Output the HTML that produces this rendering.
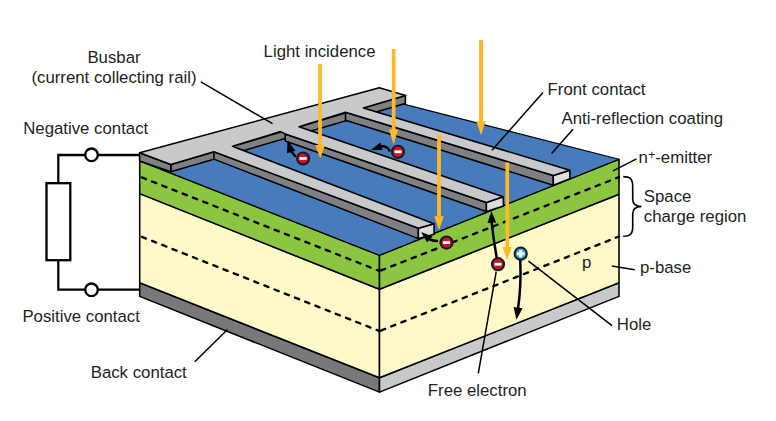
<!DOCTYPE html>
<html><head><meta charset="utf-8">
<style>
html,body{margin:0;padding:0;background:#fff;}
svg{display:block;}
text{font-family:"Liberation Sans",sans-serif;font-size:16.8px;fill:#231f20;}
</style></head>
<body>
<svg width="776" height="421" viewBox="0 0 776 421">
<g stroke="#000" stroke-width="1.55" stroke-linejoin="round">
<!-- front-left face -->
<polygon fill="#77787b" points="139.7,282.8 379.5,377.8 379.5,392.1 139.7,296.4"/>
<polygon fill="#fff9ca" points="139.7,193.6 379.5,289.3 379.5,377.8 139.7,282.8"/>
<polygon fill="#8cc540" points="139.7,160.9 379.5,255.3 379.5,289.3 139.7,193.6"/>
<!-- front-right face -->
<polygon fill="#c8c9cb" points="379.5,377.8 619,282.7 619,296.4 379.5,392.1"/>
<polygon fill="#fff9ca" points="379.5,289.3 619,194.2 619,282.7 379.5,377.8"/>
<polygon fill="#8cc540" points="379.5,255.3 619,159.2 619,194.2 379.5,289.3"/>
<!-- top -->
<polygon fill="#487bbb" stroke-width="1.15" points="139.7,160.9 379.5,255.3 619,159.2 379.3,97.9"/>
<!-- busbar side faces -->
<polygon fill="#7f8083" points="170.8,164.4 405.5,95.5 405.3,103.4 170.8,171.8"/>
<polygon fill="#7f8083" points="139.6,152.7 170.8,164.4 170.8,171.8 139.6,160.9"/>
<!-- finger side faces -->
<polygon fill="#7f8083" points="345.5,112.3 553.3,175.6 553.3,185.2 345.5,120.3"/>
<polygon fill="#dcdddf" points="553.3,175.6 569.9,170.2 569.9,178.8 553.3,185.2"/>
<polygon fill="#7f8083" points="285.2,133.9 486.4,202.5 486.4,211.6 285.2,141.1"/>
<polygon fill="#dcdddf" points="486.4,202.5 503.1,196.8 503.5,206 486.4,211.6"/>
<polygon fill="#7f8083" points="213.9,151.8 418.4,228.2 418.4,238.6 213.9,159.1"/>
<polygon fill="#dcdddf" points="418.4,228.2 434,223.8 434.1,234.2 418.4,238.6"/>
<!-- busbar + finger tops -->
<polygon fill="#c8c9cb" points="139.6,152.7 379.4,87.8 405.5,95.5 363.4,107.9 569.9,170.2 553.3,175.6 345.5,112.3 299,126.8 503.1,196.8 486.4,202.5 285.2,133.9 280.4,131.6 232.5,146.3 434,223.8 418.4,228.2 213.9,151.8 170.8,164.4"/>
</g>
<!-- dashed lines -->
<g stroke="#000" stroke-width="2.4" stroke-linecap="round" stroke-dasharray="4.4 6.58" stroke-dashoffset="-1.6" fill="none">
<line x1="140.4" y1="176.9" x2="379.5" y2="271"/>
<line x1="379.5" y1="271" x2="619" y2="177.1"/>
<line x1="140.4" y1="236.3" x2="379.5" y2="331.1"/>
<line x1="379.5" y1="331.1" x2="619" y2="236.5"/>
</g>
<!-- light arrows -->
<g fill="#fdb927">
<rect x="318.2" y="64" width="3.7" height="82"/>
<polygon points="315.5,145 325,145 320.2,158.6"/>
<rect x="391.8" y="49" width="3.7" height="81"/>
<polygon points="389,129.6 398.2,129.6 393.6,144.5"/>
<rect x="479.1" y="40" width="3.8" height="82"/>
<polygon points="476.4,121.2 485.6,121.2 481,135.3"/>
<rect x="437.1" y="134.8" width="3.8" height="82"/>
<polygon points="434.4,216.2 443.8,216.2 439.1,230.2"/>
<rect x="505.4" y="162.5" width="3.7" height="85"/>
<polygon points="502.7,247 511.7,247 507.2,260.2"/>
</g>
<!-- leader lines -->
<g stroke="#000" stroke-width="1.5" fill="none">
<line x1="200.9" y1="81.9" x2="272.5" y2="123.7"/>
<line x1="543" y1="92.5" x2="492" y2="150.3"/>
<line x1="573" y1="129.2" x2="551.6" y2="153.4"/>
<line x1="613" y1="170.9" x2="636.5" y2="158.9"/>
<line x1="611.8" y1="266.1" x2="634.8" y2="269.7"/>
<line x1="528.5" y1="261.2" x2="612" y2="325.6"/>
<line x1="496.2" y1="271.6" x2="478.3" y2="373.4"/>
<line x1="194.8" y1="361.8" x2="227.5" y2="329.5"/>
</g>
<!-- brace -->
<path d="M623.2,176.6 C630,176.6 632.7,179 632.7,186 L632.7,199 C632.7,204 636,206.5 641.6,206.5 C636,206.5 632.7,209 632.7,214 L632.7,227 C632.7,234 630,236.2 623.2,236.2" stroke="#000" stroke-width="1.6" fill="none"/>
<!-- carrier arrows -->
<g fill="#000" stroke="none">
<polygon points="287.5,140.4 287,153.3 295.4,150.8"/>
<polygon points="370.8,150 380.4,142.5 382.5,150"/>
<polygon points="421.2,232.1 427,242.5 432.5,236.6"/>
<polygon points="491.4,211 487.4,223 496.2,222.6"/>
<polygon points="516.4,319.8 513.6,307 522.6,308.3"/>
</g>
<g stroke="#000" stroke-width="2.5" fill="none" stroke-linecap="round">
<path d="M291.5,151.5 Q293.5,154 295,156"/>
<path d="M381,146.5 Q386,145 389.5,150.5"/>
<path d="M430,239.5 Q433.5,241 437,241"/>
<path d="M491.6,222 Q493.5,240 496.6,257"/>
<path d="M520.3,261 Q521.3,285 518.2,307.5"/>
</g>
<!-- electrons -->
<g transform="translate(303.1,158.5)"><circle r="6.1" fill="#c5142b" stroke="#1a1a1a" stroke-width="2"/><rect x="-3.5" y="-1.4" width="7" height="2.8" fill="#fff"/></g>
<g transform="translate(398,151.8)"><circle r="6.1" fill="#c5142b" stroke="#1a1a1a" stroke-width="2"/><rect x="-3.5" y="-1.4" width="7" height="2.8" fill="#fff"/></g>
<g transform="translate(446.5,242.6)"><circle r="6.1" fill="#c5142b" stroke="#1a1a1a" stroke-width="2"/><rect x="-3.5" y="-1.4" width="7" height="2.8" fill="#fff"/></g>
<g transform="translate(498,264.2)"><circle r="6.1" fill="#c5142b" stroke="#1a1a1a" stroke-width="2"/><rect x="-3.5" y="-1.4" width="7" height="2.8" fill="#fff"/></g>
<g transform="translate(520.7,253.7)"><circle r="6.1" fill="#29abe2" stroke="#1a1a1a" stroke-width="2"/><rect x="-3.8" y="-1.5" width="7.6" height="3" fill="#fff"/><rect x="-1.5" y="-3.6" width="3" height="7.2" fill="#fff"/></g>
<!-- circuit -->
<g stroke="#000" stroke-width="2.3" fill="none">
<polyline points="139.7,155 97.8,155"/>
<polyline points="85.2,155 58.3,155 58.3,183.2"/>
<rect x="46.5" y="183.2" width="23.8" height="77" fill="#fff"/>
<polyline points="58.3,260.2 58.3,289.6 85.2,289.6"/>
<polyline points="97.8,289.6 139.7,289.6"/>
<circle cx="91.5" cy="154.8" r="6.3" fill="#fff"/>
<circle cx="91.5" cy="289.8" r="6.3" fill="#fff"/>
</g>
<!-- labels -->
<text x="114" y="63" text-anchor="middle">Busbar</text>
<text x="114" y="82.5" text-anchor="middle">(current collecting rail)</text>
<text x="23.2" y="133.8">Negative contact</text>
<text x="263.6" y="56.8">Light incidence</text>
<text x="547.6" y="95.3">Front contact</text>
<text x="561.6" y="123.6">Anti-reflection coating</text>
<text x="638.6" y="163">n<tspan font-size="12.5" dy="-4.3">+</tspan><tspan dy="4.3">-emitter</tspan></text>
<text x="643.8" y="202.2">Space</text>
<text x="643.8" y="221.9">charge region</text>
<text x="582" y="267.5">p</text>
<text x="640" y="273.2">p-base</text>
<text x="616.8" y="330.2">Hole</text>
<text x="427.8" y="395.5">Free electron</text>
<text x="22.4" y="321.9">Positive contact</text>
<text x="90.7" y="378.1">Back contact</text>
</svg>
</body></html>
